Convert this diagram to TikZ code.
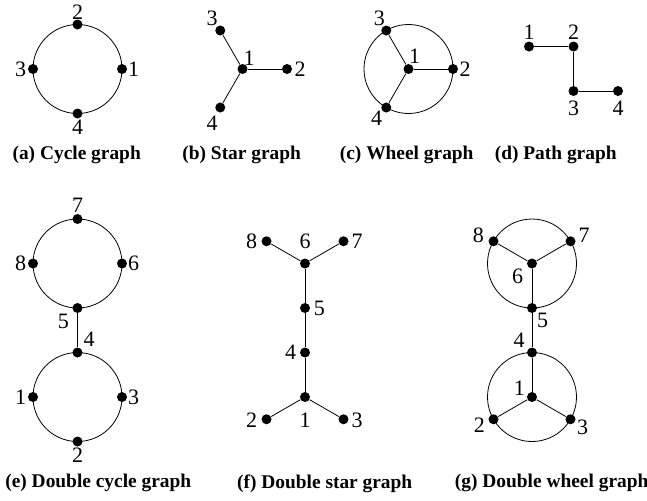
\documentclass[tikz,border=0pt]{standalone}
\usepackage{fontspec}
\setmainfont{Liberation Serif}

\begin{document}
\begin{tikzpicture}[x=0.5pt,y=-0.5pt,
  vtx/.style={circle,fill=black,inner sep=0pt,minimum size=5pt},
  num/.style={inner sep=0pt,font=\fontsize{11}{13}\selectfont},
  subcap/.style={inner sep=0pt,font=\fontsize{9.7}{12}\selectfont\bfseries},
  edge/.style={line width=0.4pt}]
\useasboundingbox (0,0) rectangle (647,500);
\node[vtx] (a1) at (122,69) {};
\node[vtx] (a2) at (77.5,24.5) {};
\node[vtx] (a3) at (33,69) {};
\node[vtx] (a4) at (77.5,113.5) {};
\draw[edge] (77.5,69) circle[radius=22.25pt];
\node[num] (ta1) at (133.5,69) {1};
\node[num] (ta2) at (77.5,12) {2};
\node[num] (ta3) at (20.5,69) {3};
\node[num] (ta4) at (77.5,127) {4};
\node[subcap] (capa) at (76.7,155) {(a) Cycle graph};
\node[vtx] (b1) at (242.5,69) {};
\node[vtx] (b2) at (287,69) {};
\node[vtx] (b3) at (220.25,30.5) {};
\node[vtx] (b4) at (220.25,107.5) {};
\draw[edge] (b1) -- (b2);
\draw[edge] (b1) -- (b3);
\draw[edge] (b1) -- (b4);
\node[num] (tb1) at (249,58) {1};
\node[num] (tb2) at (300,69) {2};
\node[num] (tb3) at (212,18) {3};
\node[num] (tb4) at (212,123) {4};
\node[subcap] (capb) at (241.7,155) {(b) Star graph};
\node[vtx] (c1) at (408.5,69) {};
\node[vtx] (c2) at (453,69) {};
\node[vtx] (c3) at (386.25,30.5) {};
\node[vtx] (c4) at (386.25,107.5) {};
\draw[edge] (c1.center) circle[radius=22.25pt];
\draw[edge] (c1) -- (c2);
\draw[edge] (c1) -- (c3);
\draw[edge] (c1) -- (c4);
\node[num] (tc1) at (414.5,56.7) {1};
\node[num] (tc2) at (465,69) {2};
\node[num] (tc3) at (379.3,18.3) {3};
\node[num] (tc4) at (376.7,118) {4};
\node[subcap] (capc) at (406.7,155) {(c) Wheel graph};
\node[vtx] (d1) at (529,46.5) {};
\node[vtx] (d2) at (573.5,46.5) {};
\node[vtx] (d3) at (573.5,91) {};
\node[vtx] (d4) at (618,91) {};
\draw[edge] (d1) -- (d2) -- (d3) -- (d4);
\node[num] (td1) at (529,32) {1};
\node[num] (td2) at (573.5,32) {2};
\node[num] (td3) at (573.5,108.5) {3};
\node[num] (td4) at (618,108.5) {4};
\node[subcap] (capd) at (555.7,155) {(d) Path graph};
\node[vtx] (e1) at (33,397) {};
\node[vtx] (e2) at (77.5,441.5) {};
\node[vtx] (e3) at (122,397) {};
\node[vtx] (e4) at (77.5,352.5) {};
\node[vtx] (e5) at (77.5,308) {};
\node[vtx] (e6) at (122,263.5) {};
\node[vtx] (e7) at (77.5,219) {};
\node[vtx] (e8) at (33,263.5) {};
\draw[edge] (77.5,263.5) circle[radius=22.25pt];
\draw[edge] (77.5,397) circle[radius=22.25pt];
\draw[edge] (e5) -- (e4);
\node[num] (te1) at (20.7,397) {1};
\node[num] (te2) at (77.5,455) {2};
\node[num] (te3) at (133.5,397) {3};
\node[num] (te4) at (89,339.3) {4};
\node[num] (te5) at (63.3,321.7) {5};
\node[num] (te6) at (133.5,263.5) {6};
\node[num] (te7) at (77.5,205) {7};
\node[num] (te8) at (20.7,263.5) {8};
\node[subcap] (cape) at (98.3,483.3) {(e) Double cycle graph};
\node[vtx] (f1) at (305,397) {};
\node[vtx] (f2) at (266.5,419.25) {};
\node[vtx] (f3) at (343.5,419.25) {};
\node[vtx] (f4) at (305,352.5) {};
\node[vtx] (f5) at (305,308) {};
\node[vtx] (f6) at (305,263.5) {};
\node[vtx] (f7) at (343.5,241.25) {};
\node[vtx] (f8) at (266.5,241.25) {};
\draw[edge] (f6) -- (f8);
\draw[edge] (f6) -- (f7);
\draw[edge] (f6) -- (f5) -- (f4) -- (f1);
\draw[edge] (f1) -- (f2);
\draw[edge] (f1) -- (f3);
\node[num] (tf1) at (305,420) {1};
\node[num] (tf2) at (251.7,420) {2};
\node[num] (tf3) at (357,420) {3};
\node[num] (tf4) at (290.7,352.5) {4};
\node[num] (tf5) at (319.3,308) {5};
\node[num] (tf6) at (305,241.5) {6};
\node[num] (tf7) at (357,241.5) {7};
\node[num] (tf8) at (251.7,241.5) {8};
\node[subcap] (capf) at (324.7,483.3) {(f) Double star graph};
\node[vtx] (g1) at (532,397) {};
\node[vtx] (g2) at (493.5,419.25) {};
\node[vtx] (g3) at (570.5,419.25) {};
\node[vtx] (g4) at (532,352.5) {};
\node[vtx] (g5) at (532,308) {};
\node[vtx] (g6) at (532,263.5) {};
\node[vtx] (g7) at (570.5,241.25) {};
\node[vtx] (g8) at (493.5,241.25) {};
\draw[edge] (g6.center) circle[radius=22.25pt];
\draw[edge] (g1.center) circle[radius=22.25pt];
\draw[edge] (g6) -- (g8);
\draw[edge] (g6) -- (g7);
\draw[edge] (g6) -- (g5) -- (g4) -- (g1);
\draw[edge] (g1) -- (g2);
\draw[edge] (g1) -- (g3);
\node[num] (tg1) at (519.3,388.3) {1};
\node[num] (tg2) at (479.3,425) {2};
\node[num] (tg3) at (582.7,427.3) {3};
\node[num] (tg4) at (519,340.7) {4};
\node[num] (tg5) at (542.7,320) {5};
\node[num] (tg6) at (517.7,276) {6};
\node[num] (tg7) at (584,235) {7};
\node[num] (tg8) at (478.3,235) {8};
\node[subcap] (capg) at (551.7,483.3) {(g) Double wheel graph};
\end{tikzpicture}
\end{document}
